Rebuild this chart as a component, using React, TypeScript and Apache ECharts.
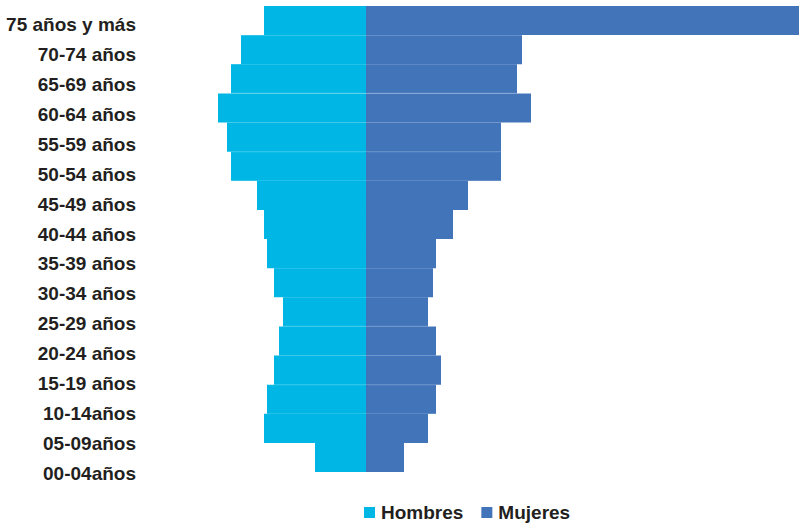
import React, { useEffect, useRef } from "react";
import * as echarts from "echarts";

// Categories from the youngest (bottom) to the oldest (top)
const categories = [
  "00-04años",
  "05-09años",
  "10-14años",
  "15-19 años",
  "20-24 años",
  "25-29 años",
  "30-34 años",
  "35-39 años",
  "40-44 años",
  "45-49 años",
  "50-54 años",
  "55-59 años",
  "60-64 años",
  "65-69 años",
  "70-74 años",
  "75 años y más",
];

// Values (arbitrary units)
const hombres = [51, 102, 99, 92, 87, 83, 92, 99, 102, 109, 135, 139, 148, 135, 125, 102];
const mujeres = [38, 62, 70, 75, 70, 62, 67, 70, 87, 102, 135, 135, 165, 151, 156, 433];

const axisMin = -366;
const axisMax = 433;

const seriesNames = ["Hombres", "Mujeres"];
const colors = ["#00B6E4", "#4274BA"];

export default function App() {
  const ref = useRef<HTMLDivElement>(null);

  useEffect(() => {
    document.body.style.margin = "0";
    if (!ref.current) return;
    const chart = echarts.init(ref.current, null, { renderer: "svg" });
    const font = "'Liberation Sans', Arial, sans-serif";
    chart.setOption({
      animation: false,
      color: colors,
      grid: [
        { left: 0, right: 0, top: 6, height: 466 },
        { left: 137, width: 1, top: 10, height: 478 },
      ],
      legend: {
        data: seriesNames,
        left: 364,
        top: 503,
        padding: 0,
        itemWidth: 9,
        itemHeight: 9,
        itemGap: 18,
        icon: "rect",
        textStyle: {
          fontFamily: font,
          fontWeight: "bold",
          fontSize: 19,
          lineHeight: 19,
          color: "#231F20",
          padding: [0, 0, 0, 2],
        },
      },
      xAxis: [
        {
          type: "value",
          gridIndex: 0,
          min: axisMin,
          max: axisMax,
          show: false,
        },
        {
          type: "value",
          gridIndex: 1,
          min: 0,
          max: 1,
          show: false,
        },
      ],
      yAxis: [
        {
          type: "category",
          gridIndex: 0,
          data: categories,
          show: false,
        },
        {
          type: "category",
          gridIndex: 1,
          data: categories,
          axisLine: { show: false },
          axisTick: { show: false },
          splitLine: { show: false },
          axisLabel: {
            margin: 1,
            fontFamily: font,
            fontWeight: "bold",
            fontSize: 19,
            color: "#231F20",
          },
        },
      ],
      series: [
        {
          name: seriesNames[0],
          type: "bar",
          xAxisIndex: 0,
          yAxisIndex: 0,
          data: hombres.map((v) => -v),
          barCategoryGap: 0,
          barGap: "-100%",
          itemStyle: { color: colors[0], borderColor: colors[0], borderWidth: 1.2 },
        },
        {
          name: seriesNames[1],
          type: "bar",
          xAxisIndex: 0,
          yAxisIndex: 0,
          data: mujeres,
          barCategoryGap: 0,
          barGap: "-100%",
          itemStyle: { color: colors[1], borderColor: colors[1], borderWidth: 1.2 },
        },
      ],
    });
    return () => chart.dispose();
  }, []);

  return <div ref={ref} style={{ width: 799, height: 523 }} />;
}
